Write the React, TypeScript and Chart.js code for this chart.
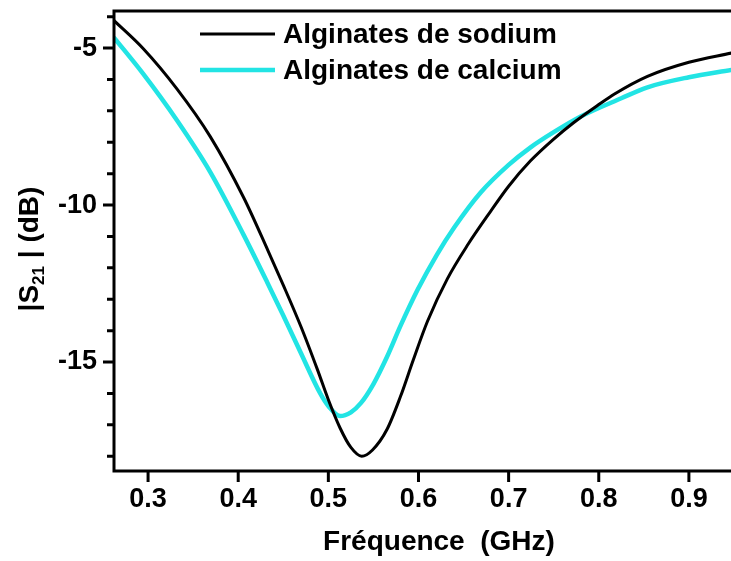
import React, { useEffect, useRef } from "react";
import { Chart, registerables } from "chart.js";

Chart.register(...registerables);

// Frequencies (GHz) and |S21| (dB)
const sodiumFreq = [0.262, 0.295, 0.332, 0.369, 0.406, 0.433, 0.45, 0.47, 0.488, 0.5, 0.513, 0.525, 0.537, 0.549, 0.565, 0.58, 0.594, 0.61, 0.632, 0.655, 0.68, 0.7, 0.724, 0.75, 0.772, 0.8, 0.817, 0.854, 0.9, 0.947];
const sodiumS21 = [-4.12, -5.03, -6.3, -7.82, -9.76, -11.45, -12.55, -13.9, -15.25, -16.2, -17.1, -17.72, -18.0, -17.8, -17.15, -16.1, -14.95, -13.7, -12.35, -11.25, -10.2, -9.4, -8.6, -7.9, -7.38, -6.8, -6.47, -5.9, -5.45, -5.16];

const calciumFreq = [0.262, 0.294, 0.332, 0.369, 0.406, 0.432, 0.45, 0.469, 0.491, 0.5, 0.513, 0.525, 0.536, 0.55, 0.565, 0.58, 0.599, 0.62, 0.64, 0.669, 0.7, 0.724, 0.75, 0.78, 0.825, 0.854, 0.9, 0.947];
const calciumS21 = [-4.66, -5.8, -7.3, -8.95, -10.95, -12.45, -13.52, -14.68, -16.0, -16.4, -16.72, -16.6, -16.31, -15.7, -14.84, -13.85, -12.7, -11.6, -10.7, -9.6, -8.72, -8.17, -7.68, -7.18, -6.6, -6.25, -5.93, -5.7];

const xTickValues = [0.3, 0.4, 0.5, 0.6, 0.7, 0.8, 0.9];
const yMajorTicks = [-15, -10, -5];
const yMinorTicks = [-18, -17, -16, -14, -13, -12, -11, -9, -8, -7, -6, -4];

const seriesLabels = ["Alginates de sodium", "Alginates de calcium"];
const seriesColors = ["#000000", "#22E4E4"];
const xTitle = "Fréquence  (GHz)";

const FONT = "'Liberation Sans', Arial, sans-serif";

const decorPlugin = {
  id: "decor",
  afterDatasetsDraw(chart: any) {
    const { ctx, chartArea } = chart;
    const xs = chart.scales.x;
    const ys = chart.scales.y;
    const { left, right, top, bottom } = chartArea;
    ctx.save();
    ctx.strokeStyle = "#000";
    ctx.lineCap = "butt";
    ctx.lineWidth = 3;
    // axes frame
    ctx.beginPath();
    ctx.moveTo(left, top - 1.5);
    ctx.lineTo(left, bottom + 1.5);
    ctx.moveTo(left - 1.5, bottom);
    ctx.lineTo(right, bottom);
    ctx.moveTo(left - 1.5, top);
    ctx.lineTo(right, top);
    ctx.stroke();
    // y ticks
    ctx.beginPath();
    yMajorTicks.forEach((v) => {
      const p = ys.getPixelForValue(v);
      ctx.moveTo(left - 11, p);
      ctx.lineTo(left, p);
    });
    yMinorTicks.forEach((v) => {
      const p = ys.getPixelForValue(v);
      ctx.moveTo(left - 7, p);
      ctx.lineTo(left, p);
    });
    // x ticks
    xTickValues.forEach((v) => {
      const p = xs.getPixelForValue(v);
      ctx.moveTo(p, bottom);
      ctx.lineTo(p, bottom + 11);
    });
    ctx.stroke();

    // legend
    const legendRows = [34, 70];
    seriesLabels.forEach((lab, i) => {
      ctx.beginPath();
      ctx.strokeStyle = seriesColors[i];
      ctx.lineWidth = i === 0 ? 3 : 4.5;
      ctx.moveTo(200, legendRows[i]);
      ctx.lineTo(275, legendRows[i]);
      ctx.stroke();
      ctx.fillStyle = "#000";
      ctx.font = `bold 28px ${FONT}`;
      ctx.textAlign = "left";
      ctx.textBaseline = "middle";
      ctx.fillText(lab, 283, legendRows[i] + 1);
    });

    // x title
    ctx.fillStyle = "#000";
    ctx.font = `bold 28px ${FONT}`;
    ctx.textAlign = "center";
    ctx.textBaseline = "middle";
    ctx.fillText(xTitle, 439, 542);

    // y title: |S21| (dB) with subscript
    ctx.save();
    ctx.translate(38, 249);
    ctx.rotate(-Math.PI / 2);
    ctx.textBaseline = "alphabetic";
    ctx.textAlign = "left";
    const big = `bold 28px ${FONT}`;
    const small = `bold 17px ${FONT}`;
    const p1 = "|S";
    const p2 = "21";
    const p3 = " | (dB)";
    ctx.font = big;
    const w1 = ctx.measureText(p1).width;
    const w3 = ctx.measureText(p3).width;
    ctx.font = small;
    const w2 = ctx.measureText(p2).width;
    const total = w1 + w2 + w3;
    let cx = -total / 2;
    ctx.font = big;
    ctx.fillText(p1, cx, 0);
    cx += w1;
    ctx.font = small;
    ctx.fillText(p2, cx, 6);
    cx += w2;
    ctx.font = big;
    ctx.fillText(p3, cx, 0);
    ctx.restore();

    ctx.restore();
  },
};

export default function App() {
  const ref = useRef<HTMLCanvasElement | null>(null);
  useEffect(() => {
    if (!ref.current) return;
    const chart = new Chart(ref.current, {
      type: "line",
      data: {
        datasets: [
          {
            label: seriesLabels[0],
            data: sodiumFreq.map((f, i) => ({ x: f, y: sodiumS21[i] })),
            borderColor: seriesColors[0],
            borderWidth: 3,
            pointRadius: 0,
            cubicInterpolationMode: "monotone",
            fill: false,
          },
          {
            label: seriesLabels[1],
            data: calciumFreq.map((f, i) => ({ x: f, y: calciumS21[i] })),
            borderColor: seriesColors[1],
            borderWidth: 4.5,
            pointRadius: 0,
            cubicInterpolationMode: "monotone",
            fill: false,
          },
        ],
      },
      options: {
        responsive: false,
        animation: false,
        layout: { padding: { top: 11, right: 0, bottom: 0, left: 0 } },
        plugins: { legend: { display: false }, tooltip: { enabled: false } },
        scales: {
          x: {
            type: "linear",
            min: 0.2622,
            max: 0.9467,
            border: { display: false },
            grid: { display: false, drawTicks: false },
            afterBuildTicks: (s: any) => {
              s.ticks = xTickValues.map((v) => ({ value: v }));
            },
            afterFit: (s: any) => {
              s.height = 90;
              s.paddingLeft = 0;
              s.paddingRight = 0;
            },
            ticks: {
              padding: 12,
              color: "#000",
              font: { family: FONT, size: 27, weight: "bold" },
              maxRotation: 0,
              autoSkip: false,
              callback: (v: any) => Number(v).toFixed(1),
            },
          },
          y: {
            type: "linear",
            min: -18.47,
            max: -3.82,
            border: { display: false },
            grid: { display: false, drawTicks: false },
            afterBuildTicks: (s: any) => {
              s.ticks = yMajorTicks.map((v) => ({ value: v }));
            },
            afterFit: (s: any) => {
              s.width = 114;
              s.paddingTop = 0;
              s.paddingBottom = 0;
            },
            ticks: {
              padding: 17,
              color: "#000",
              font: { family: FONT, size: 27, weight: "bold" },
              autoSkip: false,
              callback: (v: any) => String(v),
            },
          },
        },
      },
      plugins: [decorPlugin],
    } as any);
    return () => chart.destroy();
  }, []);
  return (
    <div style={{ position: "fixed", left: 0, top: 0, width: 731, height: 561, background: "#fff" }}>
      <canvas ref={ref} width={731} height={561} />
    </div>
  );
}
